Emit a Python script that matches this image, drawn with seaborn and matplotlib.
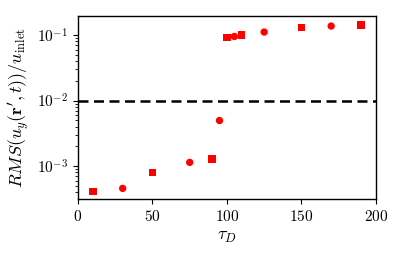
import matplotlib
matplotlib.use("Agg")
import matplotlib.pyplot as plt
import seaborn as sns
import pandas as pd

sq_x = [10, 50, 90, 100, 110, 150, 190]
sq_y = [4.1e-4, 8.0e-4, 1.28e-3, 0.091, 0.100, 0.131, 0.143]
ci_x = [30, 75, 95, 105, 125, 170]
ci_y = [4.57e-4, 1.14e-3, 4.96e-3, 0.095, 0.111, 0.137]
threshold = 1e-2

df = pd.DataFrame({
    "tau": sq_x + ci_x,
    "rms": sq_y + ci_y,
    "kind": ["sq"] * len(sq_x) + ["ci"] * len(ci_x),
})

plt.rcParams["font.family"] = ["serif"]
plt.rcParams["font.serif"] = ["cmr10", "DejaVu Serif"]
plt.rcParams["mathtext.fontset"] = "cm"
plt.rcParams["axes.formatter.use_mathtext"] = True

fig = plt.figure(figsize=(3.99, 2.58), dpi=100)
ax = fig.add_axes([0.1955, 0.2287, 0.7465, 0.7093])

sns.scatterplot(data=df, x="tau", y="rms", style="kind",
                markers={"sq": "s", "ci": "o"}, color="red",
                s=28, linewidth=0, legend=False, ax=ax)
ax.axhline(threshold, color="black", lw=1.8, ls=(0, (4, 2.2)))

ax.set_yscale("log")
ax.set_xlim(0, 200)
ax.set_ylim(3.15e-4, 0.195)
ax.set_xticks([0, 50, 100, 150, 200])
ax.tick_params(labelsize=11, direction="out")
ax.tick_params(which="major", length=3.5, width=0.8)
ax.tick_params(which="minor", length=2, width=0.6)
ax.set_xlabel(r"$\tau_D$", fontsize=13)
ax.set_ylabel(r"$RMS(u_y(\mathbf{r}',t))/u_{\rm inlet}$", fontsize=13)
for sp in ax.spines.values():
    sp.set_linewidth(1.0)
ax.grid(False)

fig.savefig("out.png", dpi=100)
